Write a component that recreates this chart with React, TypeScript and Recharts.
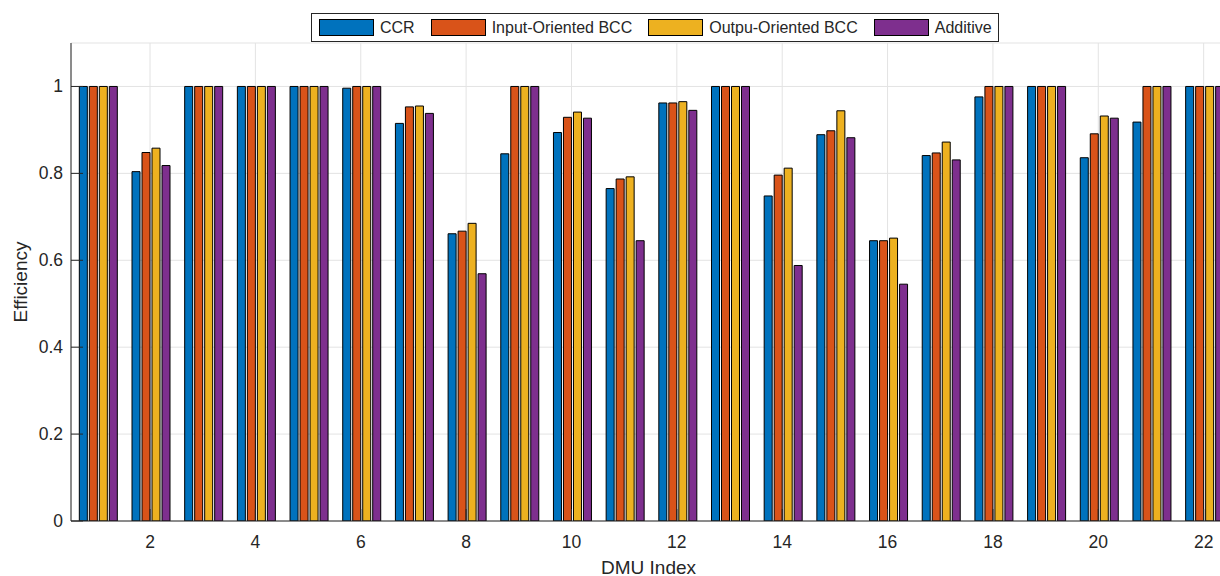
import React from 'react';
import { BarChart, Bar, XAxis, YAxis, CartesianGrid } from 'recharts';

// DMU indices and the four efficiency scores
const dmuIndex = [1, 2, 3, 4, 5, 6, 7, 8, 9, 10, 11, 12, 13, 14, 15, 16, 17, 18, 19, 20, 21, 22];
const ccr = [1, 0.804, 1, 1, 1, 0.996, 0.915, 0.661, 0.845, 0.894, 0.765, 0.962, 1, 0.748, 0.889, 0.645, 0.841, 0.976, 1, 0.836, 0.918, 1];
const inputBcc = [1, 0.848, 1, 1, 1, 1, 0.953, 0.667, 1, 0.929, 0.787, 0.962, 1, 0.796, 0.898, 0.645, 0.847, 1, 1, 0.891, 1, 1];
const outputBcc = [1, 0.858, 1, 1, 1, 1, 0.955, 0.685, 1, 0.941, 0.792, 0.965, 1, 0.812, 0.944, 0.651, 0.872, 1, 1, 0.932, 1, 1];
const additive = [1, 0.818, 1, 1, 1, 1, 0.938, 0.569, 1, 0.927, 0.645, 0.945, 1, 0.588, 0.882, 0.545, 0.831, 1, 1, 0.927, 1, 1];

const xTicks = [2, 4, 6, 8, 10, 12, 14, 16, 18, 20, 22];
const yTicks = [0, 0.2, 0.4, 0.6, 0.8, 1];

const series = [
  { key: 'ccr', name: 'CCR', color: '#0072BD' },
  { key: 'inputBcc', name: 'Input-Oriented BCC', color: '#D95319' },
  { key: 'outputBcc', name: 'Outpu-Oriented BCC', color: '#EDB120' },
  { key: 'additive', name: 'Additive', color: '#7E2F8E' },
];

const chartData = dmuIndex.map((dmu, i) => ({
  dmu,
  ccr: ccr[i],
  inputBcc: inputBcc[i],
  outputBcc: outputBcc[i],
  additive: additive[i],
}));

const FONT = '"Liberation Sans", Arial, Helvetica, sans-serif';
const AXIS = '#262626';
const TICK_LEN = 12;

// MATLAB-style ticks: marks point into the plot box
const BottomTick = (props: any) => {
  const { x, y, payload } = props;
  return (
    <g>
      <line x1={x} y1={y} x2={x} y2={y - TICK_LEN} stroke={AXIS} />
      <text x={x} y={y + 21} textAnchor="middle" dominantBaseline="central" fontSize={17.5} fontFamily={FONT} fill={AXIS}>
        {payload.value}
      </text>
    </g>
  );
};

const TopTick = (props: any) => {
  const { x, y } = props;
  return <line x1={x} y1={y} x2={x} y2={y + TICK_LEN} stroke={AXIS} />;
};

const LeftTick = (props: any) => {
  const { x, y, payload } = props;
  return (
    <g>
      <line x1={x} y1={y} x2={x + TICK_LEN} y2={y} stroke={AXIS} />
      <text x={x - 8} y={y} textAnchor="end" dominantBaseline="central" fontSize={17.5} fontFamily={FONT} fill={AXIS}>
        {payload.value}
      </text>
    </g>
  );
};

const RightTick = (props: any) => {
  const { x, y } = props;
  return <line x1={x} y1={y} x2={x - TICK_LEN} y2={y} stroke={AXIS} />;
};

const yTitle = (props: any) => {
  const vb = props.viewBox;
  const cx = vb.x + 20;
  const cy = vb.y + vb.height / 2;
  return (
    <text x={cx} y={cy} transform={`rotate(-90 ${cx} ${cy})`} textAnchor="middle" dominantBaseline="central" fontSize={19} fontFamily={FONT} fill={AXIS}>
      Efficiency
    </text>
  );
};

const xTitle = (props: any) => {
  const vb = props.viewBox;
  return (
    <text x={vb.x + vb.width / 2 - 2} y={vb.y + 46} textAnchor="middle" dominantBaseline="central" fontSize={19} fontFamily={FONT} fill={AXIS}>
      DMU Index
    </text>
  );
};

const LegendBox = () => (
  <div
    style={{
      position: 'absolute',
      left: 311,
      top: 13,
      height: 29,
      boxSizing: 'border-box',
      border: '1px solid #262626',
      background: '#fff',
      display: 'flex',
      alignItems: 'center',
      padding: '0 6px 0 7px',
      fontFamily: FONT,
      fontSize: 16,
      color: AXIS,
      whiteSpace: 'nowrap',
    }}
  >
    {series.map((s, i) => (
      <div key={s.key} style={{ display: 'flex', alignItems: 'center', marginLeft: i === 0 ? 0 : 16 }}>
        <span
          style={{
            display: 'inline-block',
            width: 55,
            height: 17,
            boxSizing: 'border-box',
            background: s.color,
            border: '1px solid #000',
            marginRight: 6,
          }}
        />
        <span>{s.name}</span>
      </div>
    ))}
  </div>
);

const App = () => {
  return (
    <div style={{ position: 'absolute', left: 0, top: 0, width: 1220, height: 576, overflow: 'hidden', background: '#fff' }}>
      <BarChart
        width={1230}
        height={576}
        data={chartData}
        margin={{ top: 43, right: 0, bottom: 0, left: 0 }}
        barGap={2}
        barCategoryGap="15.8%"
      >
        <CartesianGrid xAxisId="num" yAxisId="left" stroke="#e3e3e3" />
        <XAxis xAxisId="cat" dataKey="dmu" type="category" hide height={0} />
        <XAxis
          xAxisId="num"
          dataKey="dmu"
          type="number"
          domain={[0.5, 22.5]}
          allowDataOverflow
          ticks={xTicks}
          interval={0}
          height={55}
          tickSize={0}
          tickMargin={0}
          tickLine={false}
          tick={<BottomTick />}
          axisLine={{ stroke: AXIS }}
          label={xTitle}
        />
        <XAxis
          xAxisId="top"
          dataKey="dmu"
          type="number"
          orientation="top"
          domain={[0.5, 22.5]}
          allowDataOverflow
          ticks={xTicks}
          interval={0}
          height={0}
          tickSize={0}
          tickMargin={0}
          tickLine={false}
          tick={<TopTick />}
          axisLine={{ stroke: AXIS }}
        />
        <YAxis
          yAxisId="left"
          domain={[0, 1.1]}
          allowDataOverflow
          ticks={yTicks}
          interval={0}
          width={71}
          tickSize={0}
          tickMargin={0}
          tickLine={false}
          tick={<LeftTick />}
          axisLine={{ stroke: AXIS }}
          label={yTitle}
        />
        <YAxis
          yAxisId="right"
          orientation="right"
          domain={[0, 1.1]}
          allowDataOverflow
          ticks={yTicks}
          interval={0}
          width={0}
          tickSize={0}
          tickMargin={0}
          tickLine={false}
          tick={<RightTick />}
          axisLine={{ stroke: AXIS }}
        />
        {series.map((s) => (
          <Bar
            key={s.key}
            xAxisId="cat"
            yAxisId="left"
            dataKey={s.key}
            name={s.name}
            fill={s.color}
            stroke="#000"
            strokeWidth={1}
            isAnimationActive={false}
          />
        ))}
      </BarChart>
      <LegendBox />
    </div>
  );
};

export default App;
